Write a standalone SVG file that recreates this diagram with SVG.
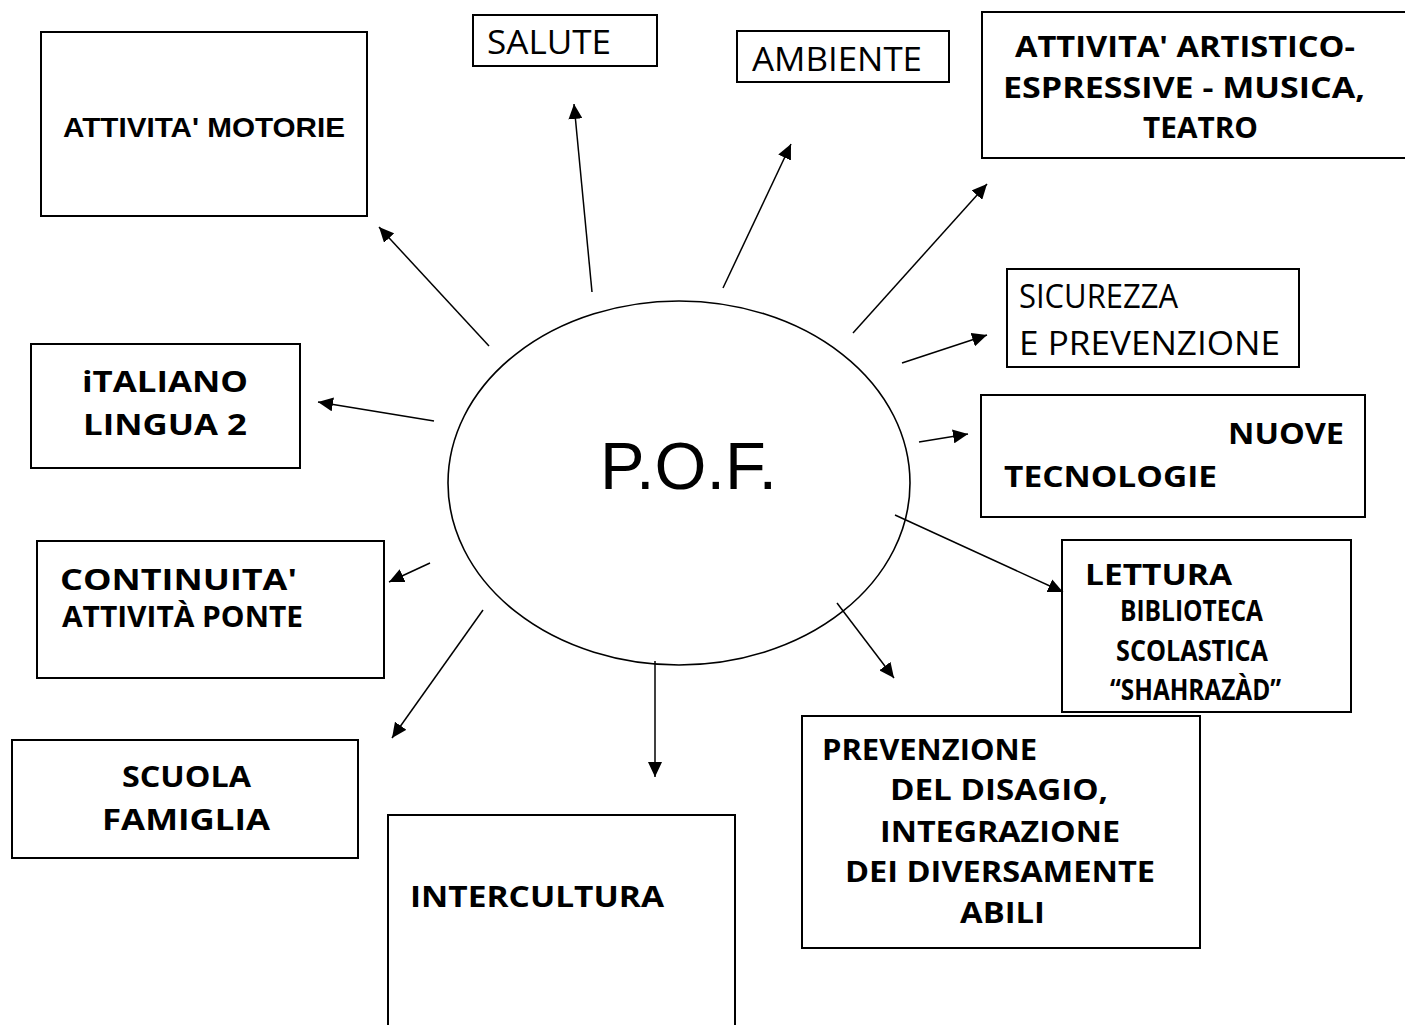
<svg xmlns="http://www.w3.org/2000/svg" width="1405" height="1025" viewBox="0 0 1405 1025">
<defs>
<marker id="ah" markerUnits="userSpaceOnUse" markerWidth="16" markerHeight="14" refX="15" refY="7" orient="auto">
<path d="M0,0 L15,7 L0,14 z" fill="#000"/>
</marker>
<style>
.box{fill:#fff;stroke:#000;stroke-width:2}
.c{font-family:"Open Sans","DejaVu Sans",sans-serif;fill:#000}
.b{font-weight:bold;font-size:28px}
.r{font-weight:normal;font-size:32px}
.ar{font-family:"Liberation Sans",Arial,sans-serif;fill:#000}
.cn line{stroke:#000;stroke-width:1.5;marker-end:url(#ah)}
</style>
</defs>
<rect width="1405" height="1025" fill="#fff"/>

<g id="pof">
<ellipse cx="679" cy="483" rx="231" ry="182" fill="none" stroke="#000" stroke-width="1.6"/>
<text class="ar" x="600" y="489" font-size="66" textLength="177" lengthAdjust="spacingAndGlyphs">P.O.F.</text>
</g>

<g id="motorie">
<rect class="box" x="41" y="32" width="326" height="184"/>
<text class="ar" x="63" y="137" font-size="28" font-weight="bold" textLength="282" lengthAdjust="spacingAndGlyphs">ATTIVITA' MOTORIE</text>
</g>

<g id="salute">
<rect class="box" x="473" y="15" width="184" height="51"/>
<text class="c r" x="487" y="54" textLength="124" lengthAdjust="spacingAndGlyphs">SALUTE</text>
</g>

<g id="ambiente">
<rect class="box" x="737" y="31" width="212" height="51"/>
<text class="c r" x="752" y="71" textLength="170" lengthAdjust="spacingAndGlyphs">AMBIENTE</text>
</g>

<g id="artistico">
<rect class="box" x="982" y="12" width="430" height="146"/>
<text class="c b" x="1015" y="57" textLength="340" lengthAdjust="spacingAndGlyphs">ATTIVITA' ARTISTICO-</text>
<text class="c b" x="1003" y="98" textLength="362" lengthAdjust="spacingAndGlyphs">ESPRESSIVE - MUSICA,</text>
<text class="c b" x="1143" y="138" textLength="115" lengthAdjust="spacingAndGlyphs">TEATRO</text>
</g>

<g id="sicurezza">
<rect class="box" x="1007" y="269" width="292" height="98"/>
<text class="c r" x="1019" y="308" textLength="159" lengthAdjust="spacingAndGlyphs">SICUREZZA</text>
<text class="c r" x="1019" y="355" textLength="261" lengthAdjust="spacingAndGlyphs">E PREVENZIONE</text>
</g>

<g id="tecnologie">
<rect class="box" x="981" y="395" width="384" height="122"/>
<text class="c b" x="1228" y="444" textLength="116" lengthAdjust="spacingAndGlyphs">NUOVE</text>
<text class="c b" x="1004" y="487" textLength="213" lengthAdjust="spacingAndGlyphs">TECNOLOGIE</text>
</g>

<g id="lettura">
<rect class="box" x="1062" y="540" width="289" height="172"/>
<text class="c b" x="1085" y="585" font-size="30" textLength="147" lengthAdjust="spacingAndGlyphs">LETTURA</text>
<text class="c b" x="1120" y="621" font-size="24" textLength="143" lengthAdjust="spacingAndGlyphs">BIBLIOTECA</text>
<text class="c b" x="1116" y="661" font-size="24" textLength="152" lengthAdjust="spacingAndGlyphs">SCOLASTICA</text>
<text class="c b" x="1110" y="700" font-size="24" textLength="171" lengthAdjust="spacingAndGlyphs">“SHAHRAZÀD”</text>
</g>

<g id="prevenzione">
<rect class="box" x="802" y="716" width="398" height="232"/>
<text class="c b" x="822" y="760" textLength="215" lengthAdjust="spacingAndGlyphs">PREVENZIONE</text>
<text class="c b" x="890" y="800" textLength="218" lengthAdjust="spacingAndGlyphs">DEL DISAGIO,</text>
<text class="c b" x="880" y="842" textLength="240" lengthAdjust="spacingAndGlyphs">INTEGRAZIONE</text>
<text class="c b" x="845" y="882" textLength="310" lengthAdjust="spacingAndGlyphs">DEI DIVERSAMENTE</text>
<text class="c b" x="960" y="923" textLength="85" lengthAdjust="spacingAndGlyphs">ABILI</text>
</g>

<g id="intercultura">
<path d="M388,1030 V815 H735 V1030" fill="#fff" stroke="#000" stroke-width="2"/>
<text class="c b" x="410" y="907" textLength="254" lengthAdjust="spacingAndGlyphs">INTERCULTURA</text>
</g>

<g id="scuola">
<rect class="box" x="12" y="740" width="346" height="118"/>
<text class="c b" x="122" y="787" textLength="129" lengthAdjust="spacingAndGlyphs">SCUOLA</text>
<text class="c b" x="102" y="830" textLength="168" lengthAdjust="spacingAndGlyphs">FAMIGLIA</text>
</g>

<g id="continuita">
<rect class="box" x="37" y="541" width="347" height="137"/>
<text class="c b" x="60" y="590" font-size="31" textLength="237" lengthAdjust="spacingAndGlyphs">CONTINUITA'</text>
<text class="c b" x="62" y="627" font-size="26" textLength="241" lengthAdjust="spacingAndGlyphs">ATTIVITÀ PONTE</text>
</g>

<g id="italiano">
<rect class="box" x="31" y="344" width="269" height="124"/>
<text class="c b" x="82" y="392" textLength="166" lengthAdjust="spacingAndGlyphs">iTALIANO</text>
<text class="c b" x="83" y="435" textLength="164" lengthAdjust="spacingAndGlyphs">LINGUA 2</text>
</g>

<g id="connectors" class="cn">
<line x1="489" y1="346" x2="379" y2="227"/>
<line x1="592" y1="292" x2="574" y2="104"/>
<line x1="723" y1="288" x2="791" y2="144"/>
<line x1="853" y1="333" x2="987" y2="184"/>
<line x1="902" y1="363" x2="987" y2="335"/>
<line x1="919" y1="442" x2="968" y2="434"/>
<line x1="895" y1="515" x2="1063" y2="592"/>
<line x1="837" y1="603" x2="894" y2="678"/>
<line x1="655" y1="661" x2="655" y2="777"/>
<line x1="483" y1="610" x2="392" y2="738"/>
<line x1="430" y1="563" x2="389" y2="582"/>
<line x1="434" y1="421" x2="318" y2="402"/>
</g>
</svg>
